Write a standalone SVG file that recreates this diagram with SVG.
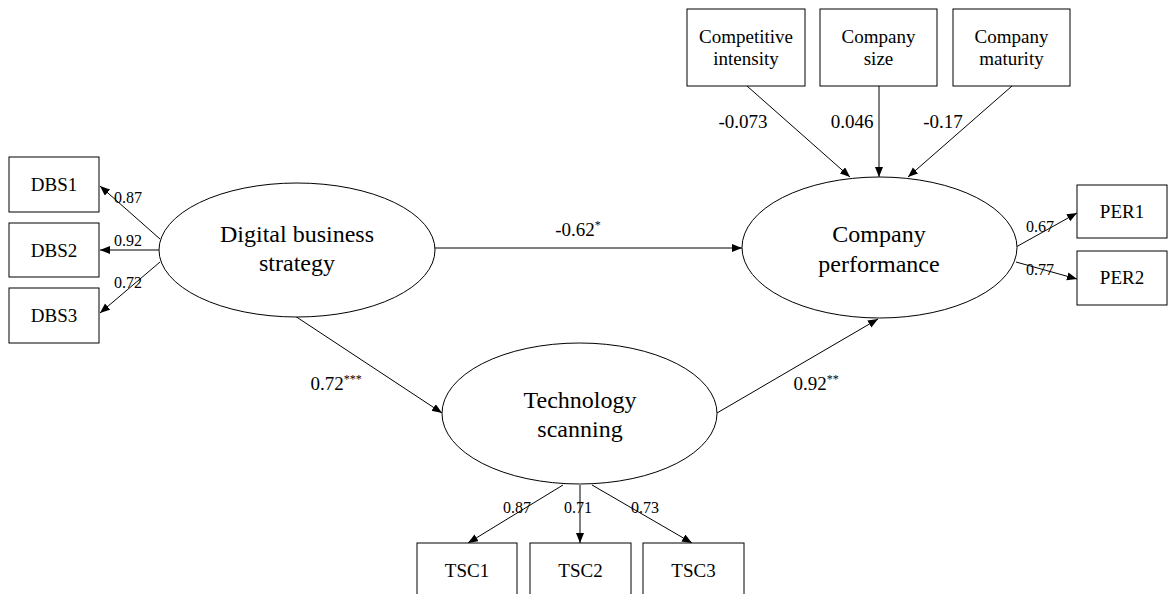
<svg xmlns="http://www.w3.org/2000/svg" width="1169" height="594" viewBox="0 0 1169 594" font-family="'Liberation Serif', 'Times New Roman', Times, serif">
<style>
  .box{fill:#fff;stroke:#000;stroke-width:1}
  .ell{fill:#fff;stroke:#000;stroke-width:1}
  text{font-family:'Liberation Serif','Times New Roman',Times,serif;fill:#000;text-anchor:middle}
  .lab{font-size:19px}
  .big{font-size:24px}
  .sm{font-size:16px}
  .sup{font-size:12px}
  .edge{stroke:#000;stroke-width:1;fill:none;marker-end:url(#arr)}
</style>
<defs>
  <marker id="arr" markerUnits="userSpaceOnUse" markerWidth="11" markerHeight="9" refX="10" refY="4" orient="auto">
    <path d="M0,0 L10,4 L0,8 z" fill="#000"/>
  </marker>
</defs>
<rect width="1169" height="594" fill="#fff"/>
<g id="connectors">
  <line class="edge" x1="160" y1="239" x2="100" y2="186"/>
  <line class="edge" x1="160" y1="250" x2="100" y2="250"/>
  <line class="edge" x1="160" y1="262" x2="100" y2="313"/>
  <line class="edge" x1="435" y1="248" x2="742" y2="248"/>
  <line class="edge" x1="295" y1="316" x2="442" y2="413"/>
  <line class="edge" x1="717" y1="413" x2="878" y2="319"/>
  <line class="edge" x1="747" y1="86" x2="850" y2="177"/>
  <line class="edge" x1="879" y1="86" x2="879" y2="177"/>
  <line class="edge" x1="1012" y1="86" x2="908" y2="177"/>
  <line class="edge" x1="1016" y1="247" x2="1077" y2="213"/>
  <line class="edge" x1="1016" y1="262" x2="1077" y2="279"/>
  <line class="edge" x1="563" y1="485" x2="468" y2="543"/>
  <line class="edge" x1="580" y1="485" x2="580" y2="543"/>
  <line class="edge" x1="592" y1="485" x2="692" y2="543"/>
  <text class="sm" x="128" y="203">0.87</text>
  <text class="sm" x="128" y="246">0.92</text>
  <text class="sm" x="128" y="288">0.72</text>
  <text class="lab" x="578" y="236">-0.62<tspan class="sup" dy="-7">*</tspan></text>
  <text class="lab" x="336" y="390">0.72<tspan class="sup" dy="-7">***</tspan></text>
  <text class="lab" x="816" y="390">0.92<tspan class="sup" dy="-7">**</tspan></text>
  <text class="lab" x="743" y="128">-0.073</text>
  <text class="lab" x="852" y="128">0.046</text>
  <text class="lab" x="943" y="128">-0.17</text>
  <text class="sm" x="1040" y="232">0.67</text>
  <text class="sm" x="1040" y="275">0.77</text>
  <text class="sm" x="517" y="513">0.87</text>
  <text class="sm" x="578" y="513">0.71</text>
  <text class="sm" x="645" y="513">0.73</text>
</g>
<g id="DBS1"><rect class="box" x="9" y="157" width="90" height="55"/><text class="lab" x="54" y="191">DBS1</text></g>
<g id="DBS2"><rect class="box" x="9" y="223" width="90" height="54"/><text class="lab" x="54" y="257">DBS2</text></g>
<g id="DBS3"><rect class="box" x="9" y="288" width="90" height="55"/><text class="lab" x="54" y="322">DBS3</text></g>
<g id="DBS"><ellipse class="ell" cx="297" cy="250" rx="138" ry="67"/><text class="big" x="297" y="242">Digital business</text><text class="big" x="297" y="271">strategy</text></g>
<g id="CP"><ellipse class="ell" cx="879.5" cy="247.5" rx="137.5" ry="70.5"/><text class="big" x="879" y="242">Company</text><text class="big" x="879" y="272">performance</text></g>
<g id="TS"><ellipse class="ell" cx="579.5" cy="413.5" rx="137.5" ry="70.5"/><text class="big" x="580" y="408">Technology</text><text class="big" x="580" y="437">scanning</text></g>
<g id="CI"><rect class="box" x="687" y="9" width="118" height="77"/><text class="lab" x="746" y="43">Competitive</text><text class="lab" x="746" y="65">intensity</text></g>
<g id="CS"><rect class="box" x="820" y="9" width="117" height="77"/><text class="lab" x="878.5" y="43">Company</text><text class="lab" x="878.5" y="65">size</text></g>
<g id="CM"><rect class="box" x="953" y="9" width="117" height="77"/><text class="lab" x="1011.5" y="43">Company</text><text class="lab" x="1011.5" y="65">maturity</text></g>
<g id="PER1"><rect class="box" x="1077" y="185" width="90" height="53"/><text class="lab" x="1122" y="218">PER1</text></g>
<g id="PER2"><rect class="box" x="1077" y="251" width="90" height="54"/><text class="lab" x="1122" y="284">PER2</text></g>
<g id="TSC1"><rect class="box" x="417" y="543" width="100" height="60"/><text class="lab" x="467" y="577">TSC1</text></g>
<g id="TSC2"><rect class="box" x="530" y="543" width="101" height="60"/><text class="lab" x="580.5" y="577">TSC2</text></g>
<g id="TSC3"><rect class="box" x="643" y="543" width="101" height="60"/><text class="lab" x="693.5" y="577">TSC3</text></g>
</svg>
